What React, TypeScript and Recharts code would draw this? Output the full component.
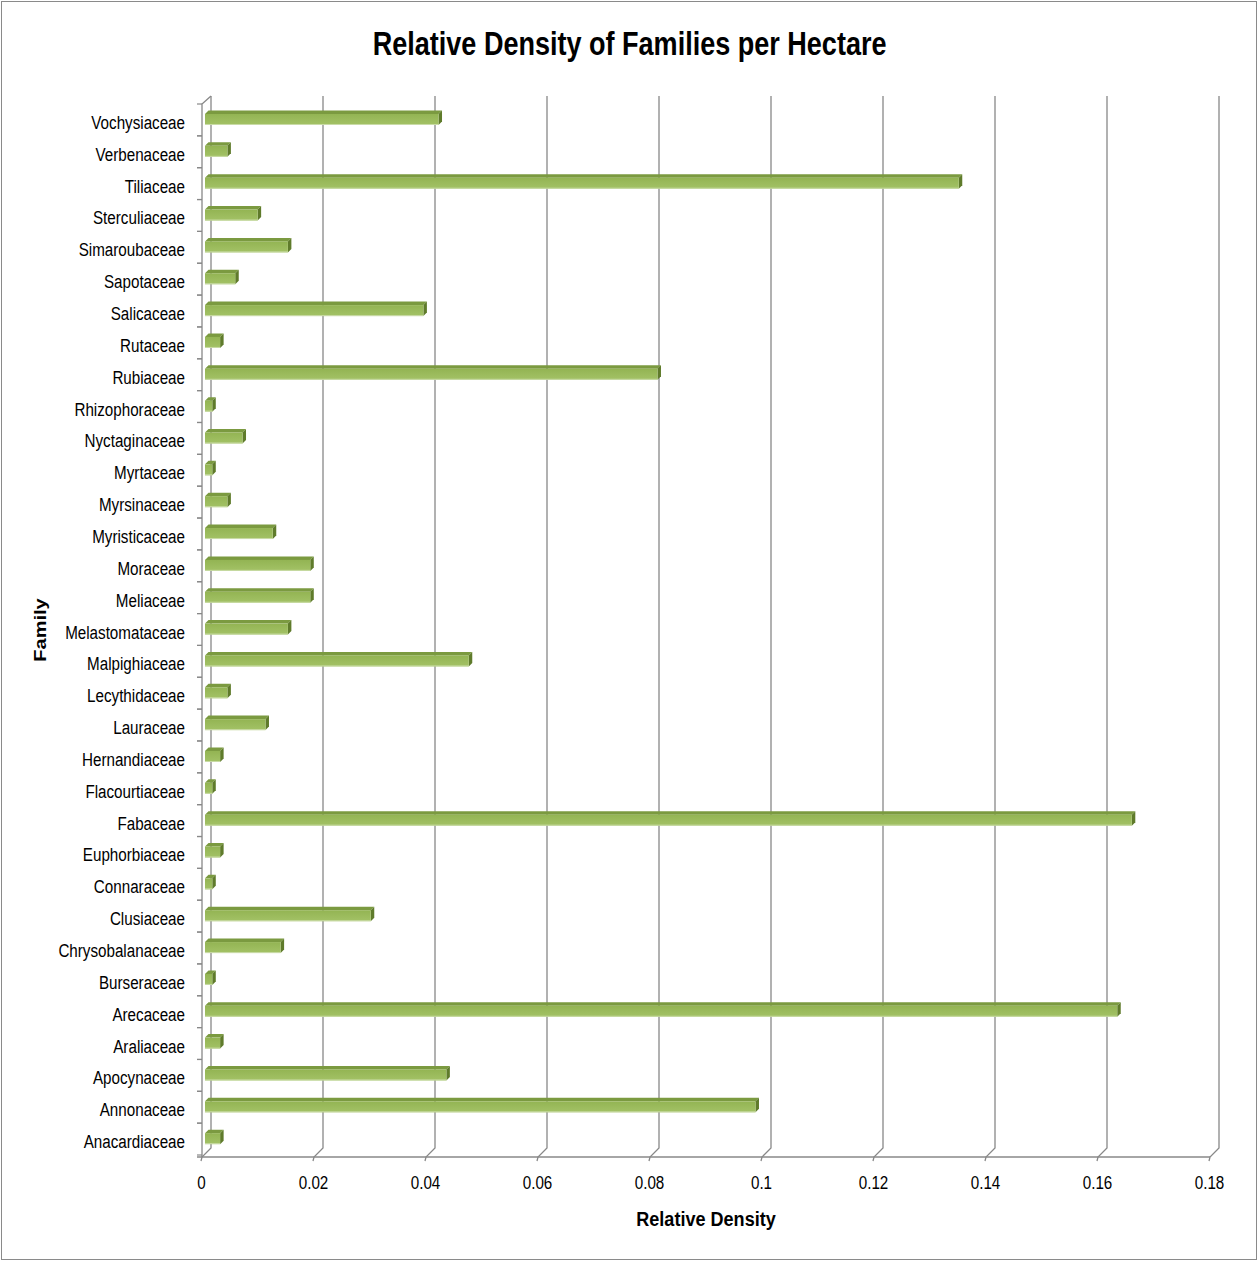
import { BarChart, Bar, XAxis, YAxis, CartesianGrid, Label } from "recharts";

// families, bottom to top as Excel draws them
const FAMILIES = [
  "Anacardiaceae", "Annonaceae", "Apocynaceae", "Araliaceae", "Arecaceae",
  "Burseraceae", "Chrysobalanaceae", "Clusiaceae", "Connaraceae", "Euphorbiaceae",
  "Fabaceae", "Flacourtiaceae", "Hernandiaceae", "Lauraceae", "Lecythidaceae",
  "Malpighiaceae", "Melastomataceae", "Meliaceae", "Moraceae", "Myristicaceae",
  "Myrsinaceae", "Myrtaceae", "Nyctaginaceae", "Rhizophoraceae", "Rubiaceae",
  "Rutaceae", "Salicaceae", "Sapotaceae", "Simaroubaceae", "Sterculiaceae",
  "Tiliaceae", "Verbenaceae", "Vochysiaceae",
];

const DENSITY = [
  0.0027, 0.0983, 0.0431, 0.0027, 0.1629,
  0.0013, 0.0135, 0.0296, 0.0013, 0.0027,
  0.1655, 0.0013, 0.0027, 0.0108, 0.004,
  0.0471, 0.0148, 0.0188, 0.0188, 0.0121,
  0.004, 0.0013, 0.0067, 0.0013, 0.0808,
  0.0027, 0.039, 0.0054, 0.0148, 0.0094,
  0.1346, 0.004, 0.0417,
];

const X_TICKS = [0, 0.02, 0.04, 0.06, 0.08, 0.1, 0.12, 0.14, 0.16, 0.18];
const X_TICK_LABELS = ["0", "0.02", "0.04", "0.06", "0.08", "0.1", "0.12", "0.14", "0.16", "0.18"];

const data = FAMILIES.map((family, i) => ({ family, density: DENSITY[i] }));

const W = 1259;
const H = 1261;
const TOP = 104;
const BOTTOM = 1155;
const LEFT = 205;
const BAND = (BOTTOM - TOP) / FAMILIES.length;
const GRID = "#888888";
const FONT = '"Liberation Sans", Arial, sans-serif';
const D = 3.5; // bar depth

// the original was drawn in a squeezed Calibri, so text gets a horizontal squeeze
function NarrowText({ x, y, size, sx = 0.8, anchor = "middle", bold = false, rotate = 0, children }: any) {
  const t = rotate
    ? `translate(${x},${y}) rotate(${rotate}) scale(1,${sx})`
    : `translate(${x},${y}) scale(${sx},1)`;
  return (
    <text
      transform={t}
      x={0}
      y={0}
      textAnchor={anchor}
      fontFamily={FONT}
      fontWeight={bold ? "bold" : "normal"}
      fontSize={size}
      fill="#000"
    >
      {children}
    </text>
  );
}

function CatTick(props: any) {
  const { x, y, payload } = props;
  const yTop = y - BAND / 2;
  const yBot = y + BAND / 2;
  return (
    <g>
      <line x1={x - 8} y1={yTop} x2={x - 3} y2={yTop} stroke={GRID} strokeWidth={1.2} />
      <line x1={x - 8} y1={yBot} x2={x - 3} y2={yBot} stroke={GRID} strokeWidth={1.2} />
      <NarrowText x={x - 20} y={y + 9} size={19} anchor="end">
        {payload.value}
      </NarrowText>
    </g>
  );
}

function ValueTick(props: any) {
  const { x, payload } = props;
  const i = X_TICKS.indexOf(payload.value);
  return (
    <NarrowText x={x - 3.5} y={1189} size={19}>
      {i >= 0 ? X_TICK_LABELS[i] : payload.value}
    </NarrowText>
  );
}

function gridLine(p: any) {
  const x = p.x1;
  const y1 = p.y1;
  const y2 = p.y2;
  const isZero = Math.abs(x - LEFT) < 0.5;
  return (
    <g key={`g-${p.index}-${x}`}>
      <polyline
        points={`${x + 6},${y1 - 8} ${x + 6},${y2 - 7} ${x - 3},${y2 + 2} ${x - 4},${y2 + 6}`}
        fill="none"
        stroke={GRID}
        strokeWidth={1.3}
      />
      {isZero && (
        <>
          <polyline
            points={`${x + 6},${y1 - 8} ${x - 3},${y1} ${x - 3},${y2 + 2}`}
            fill="none"
            stroke={GRID}
            strokeWidth={1.3}
          />
          <line
            x1={x - 8}
            y1={y2 + 2}
            x2={x + 0.18 * 5600 - 3}
            y2={y2 + 2}
            stroke={GRID}
            strokeWidth={1.3}
          />
        </>
      )}
    </g>
  );
}

function Bar3D(props: any) {
  const { x, y, width, height } = props;
  if (!width || width <= 0) return null;
  return (
    <g>
      <polygon
        points={`${x},${y} ${x + D},${y - D} ${x + width + D},${y - D} ${x + width},${y}`}
        fill="#7B9A40"
      />
      <polygon
        points={`${x + width},${y} ${x + width + D},${y - D} ${x + width + D},${y + height - D} ${x + width},${y + height}`}
        fill="#5F7B2B"
      />
      <rect x={x} y={y} width={width} height={height} fill="url(#barFront)" />
      <line x1={x} y1={y + height - 0.5} x2={x + width} y2={y + height - 0.5} stroke="#C9DBA6" strokeWidth={1} />
    </g>
  );
}

export default function App() {
  return (
    <div style={{ position: "absolute", left: 0, top: 0, width: W, height: H, background: "#fff" }}>
      <div
        style={{
          position: "absolute",
          left: 1,
          top: 1,
          width: 1256,
          height: 1259,
          border: "1px solid #8a8a8a",
          boxSizing: "border-box",
          pointerEvents: "none",
        }}
      />
      <div
        style={{
          position: "absolute",
          left: 0,
          top: 26,
          width: W,
          textAlign: "center",
          fontFamily: FONT,
          fontWeight: "bold",
          fontSize: 34,
          lineHeight: "34px",
          color: "#000",
          transform: "scaleX(0.795)",
          transformOrigin: "630px 0",
        }}
      >
        Relative Density of Families per Hectare
      </div>
      <BarChart
        width={W}
        height={H}
        data={data}
        layout="vertical"
        margin={{ top: TOP, right: W - LEFT - 0.18 * 5600, bottom: H - BOTTOM - 30, left: 0 }}
        style={{ position: "absolute", left: 0, top: 0 }}
      >
        <defs>
          <linearGradient id="barFront" x1="0" y1="0" x2="0" y2="1">
            <stop offset="0%" stopColor="#93B453" />
            <stop offset="100%" stopColor="#A3C266" />
          </linearGradient>
        </defs>
        <CartesianGrid horizontal={false} vertical={gridLine} stroke={GRID} />
        <XAxis
          type="number"
          domain={[0, 0.18]}
          ticks={X_TICKS}
          interval={0}
          height={30}
          axisLine={false}
          tickLine={false}
          tickSize={0}
          tickMargin={0}
          tick={(p: any) => <ValueTick {...p} />}
        >
          <Label
            content={() => (
              <NarrowText x={706} y={1226} size={21} sx={0.86} bold>
                Relative Density
              </NarrowText>
            )}
          />
        </XAxis>
        <YAxis
          type="category"
          dataKey="family"
          reversed
          width={LEFT}
          interval={0}
          axisLine={false}
          tickLine={false}
          tickSize={0}
          tickMargin={0}
          tick={(p: any) => <CatTick {...p} />}
        >
          <Label
            content={() => (
              <NarrowText x={46} y={630} size={20} sx={0.8} rotate={-90} bold>
                Family
              </NarrowText>
            )}
          />
        </YAxis>
        <Bar dataKey="density" barSize={11} shape={(p: any) => <Bar3D {...p} />} isAnimationActive={false} />
      </BarChart>
    </div>
  );
}
